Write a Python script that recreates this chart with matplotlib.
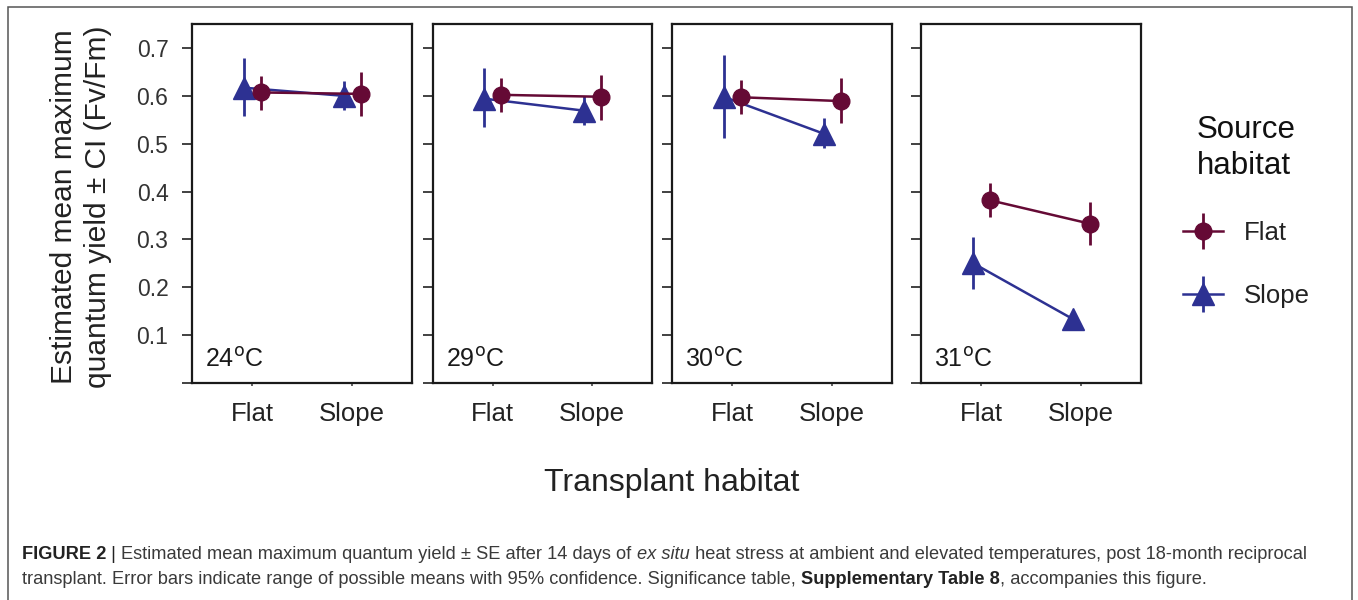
import matplotlib
matplotlib.use("Agg")
import matplotlib.pyplot as plt
from matplotlib.patches import Rectangle
from matplotlib.legend_handler import HandlerErrorbar

plt.rcParams["font.family"] = ["Liberation Sans", "DejaVu Sans"]

# data
temps = ["24", "29", "30", "31"]
transplant = ["Flat", "Slope"]

flat_mean = [[0.607, 0.604], [0.602, 0.598], [0.597, 0.589], [0.382, 0.333]]
flat_lo = [[0.571, 0.557], [0.566, 0.550], [0.562, 0.543], [0.347, 0.289]]
flat_hi = [[0.642, 0.650], [0.637, 0.643], [0.632, 0.637], [0.418, 0.378]]

slope_mean = [[0.617, 0.600], [0.594, 0.569], [0.598, 0.521], [0.251, 0.134]]
slope_lo = [[0.557, 0.570], [0.534, 0.539], [0.511, 0.491], [0.197, 0.122]]
slope_hi = [[0.679, 0.630], [0.658, 0.600], [0.686, 0.554], [0.305, 0.146]]

c_flat = "#650A35"
c_slope = "#2D3192"
dodge = 0.085

W, H = 1358, 600
fig = plt.figure(figsize=(W / 100, H / 100), dpi=100)

# panel edges in pixels (left, right)
panel_px = [(192, 412), (433, 652), (672, 892), (921, 1141)]
top_px, bot_px = 24, 383

axes = []
for i, (l, r) in enumerate(panel_px):
    ax = fig.add_axes([l / W, 1 - bot_px / H, (r - l) / W, (bot_px - top_px) / H])
    xs = [1, 2]
    # slope source first, flat source on top
    err_s = [[m - lo for m, lo in zip(slope_mean[i], slope_lo[i])],
             [hi - m for m, hi in zip(slope_mean[i], slope_hi[i])]]
    err_f = [[m - lo for m, lo in zip(flat_mean[i], flat_lo[i])],
             [hi - m for m, hi in zip(flat_mean[i], flat_hi[i])]]
    h_s = ax.errorbar([x - dodge for x in xs], slope_mean[i], yerr=err_s, fmt="-^",
                      color=c_slope, ms=16, lw=1.8, elinewidth=2, capsize=0,
                      label="Slope", zorder=3)
    h_f = ax.errorbar([x + dodge for x in xs], flat_mean[i], yerr=err_f, fmt="-o",
                      color=c_flat, ms=12, lw=1.8, elinewidth=2, capsize=0,
                      label="Flat", zorder=4)
    ax.set_xlim(0.4, 2.6)
    ax.set_ylim(0, 0.75)
    ax.set_xticks(xs)
    ax.set_xticklabels(transplant, fontsize=18.5, color="#222222")
    ax.set_yticks([0, 0.1, 0.2, 0.3, 0.4, 0.5, 0.6, 0.7])
    if i == 0:
        ax.set_yticklabels(["", "0.1", "0.2", "0.3", "0.4", "0.5", "0.6", "0.7"],
                           fontsize=16.5, color="#333333")
        handles = [h_f, h_s]
    else:
        ax.set_yticklabels([])
    ax.tick_params(axis="y", length=7, width=1.3, color="#333333", pad=10)
    ax.tick_params(axis="x", length=2.5, width=1.3, color="#555555", pad=11)
    for sp in ax.spines.values():
        sp.set_linewidth(1.6)
        sp.set_color("#1a1a1a")
    ax.text(0.06, 0.045, temps[i] + "$^{\\rm o}$C", transform=ax.transAxes,
            fontsize=18, color="#1a1a1a", ha="left", va="baseline")
    axes.append(ax)

fig.text(81 / W, 1 - 207 / H, "Estimated mean maximum\nquantum yield \u00b1 CI (Fv/Fm)",
         rotation=90, ha="center", va="center", fontsize=21.5, color="#222222",
         linespacing=1.3)
fig.text(672 / W, 1 - 483 / H, "Transplant habitat", ha="center", va="center",
         fontsize=23, color="#222222")

leg = fig.legend(handles, ["Flat", "Slope"], title="Source\nhabitat",
                 loc="upper left", bbox_to_anchor=(1183 / W, 1 - 115 / H),
                 frameon=False, fontsize=18.5, title_fontsize=22.5,
                 handlelength=1.56, handletextpad=0.8, labelspacing=1.55,
                 borderpad=0, borderaxespad=0,
                 handler_map={type(h_f): HandlerErrorbar(xerr_size=0.5, yerr_size=0.7)})
leg.get_title().set_color("#111111")
leg.get_title().set_linespacing(1.25)
for t in leg.get_texts():
    t.set_color("#222222")

# outer frame of the figure panel
fig.add_artist(Rectangle((8 / W, -0.05), (1352 - 8) / W, 1.05 - 7 / H,
                         transform=fig.transFigure, fill=False,
                         edgecolor="#555555", lw=1.1))

# caption with mixed styles
renderer = fig.canvas.get_renderer()


def seg_width(txt, **kw):
    t1 = fig.text(0, 0, txt + "l", **kw)
    w1 = t1.get_window_extent(renderer).width
    t1.remove()
    t2 = fig.text(0, 0, "l", **kw)
    w2 = t2.get_window_extent(renderer).width
    t2.remove()
    return w1 - w2


def rich_line(x_px, y_px, parts):
    x = x_px
    for txt, kw in parts:
        fig.text(x / W, 1 - y_px / H, txt, va="baseline", ha="left", **kw)
        x += seg_width(txt, **kw)


fs = 13.15
cap = dict(fontsize=fs, color="#3a3a3a")
capb = dict(fontsize=fs, color="#222222", fontweight="bold")
capi = dict(fontsize=fs, color="#3a3a3a", style="italic")

rich_line(22, 559, [
    ("FIGURE 2", capb),
    (" | ", dict(fontsize=fs, color="#222222")),
    ("Estimated mean maximum quantum yield \u00b1 SE after 14 days of ", cap),
    ("ex situ", capi),
    (" heat stress at ambient and elevated temperatures, post 18-month reciprocal", cap),
])
rich_line(22, 584, [
    ("transplant. Error bars indicate range of possible means with 95% confidence. "
     "Significance table, ", cap),
    ("Supplementary Table 8", capb),
    (", accompanies this figure.", cap),
])

fig.savefig("out.png", dpi=100)
